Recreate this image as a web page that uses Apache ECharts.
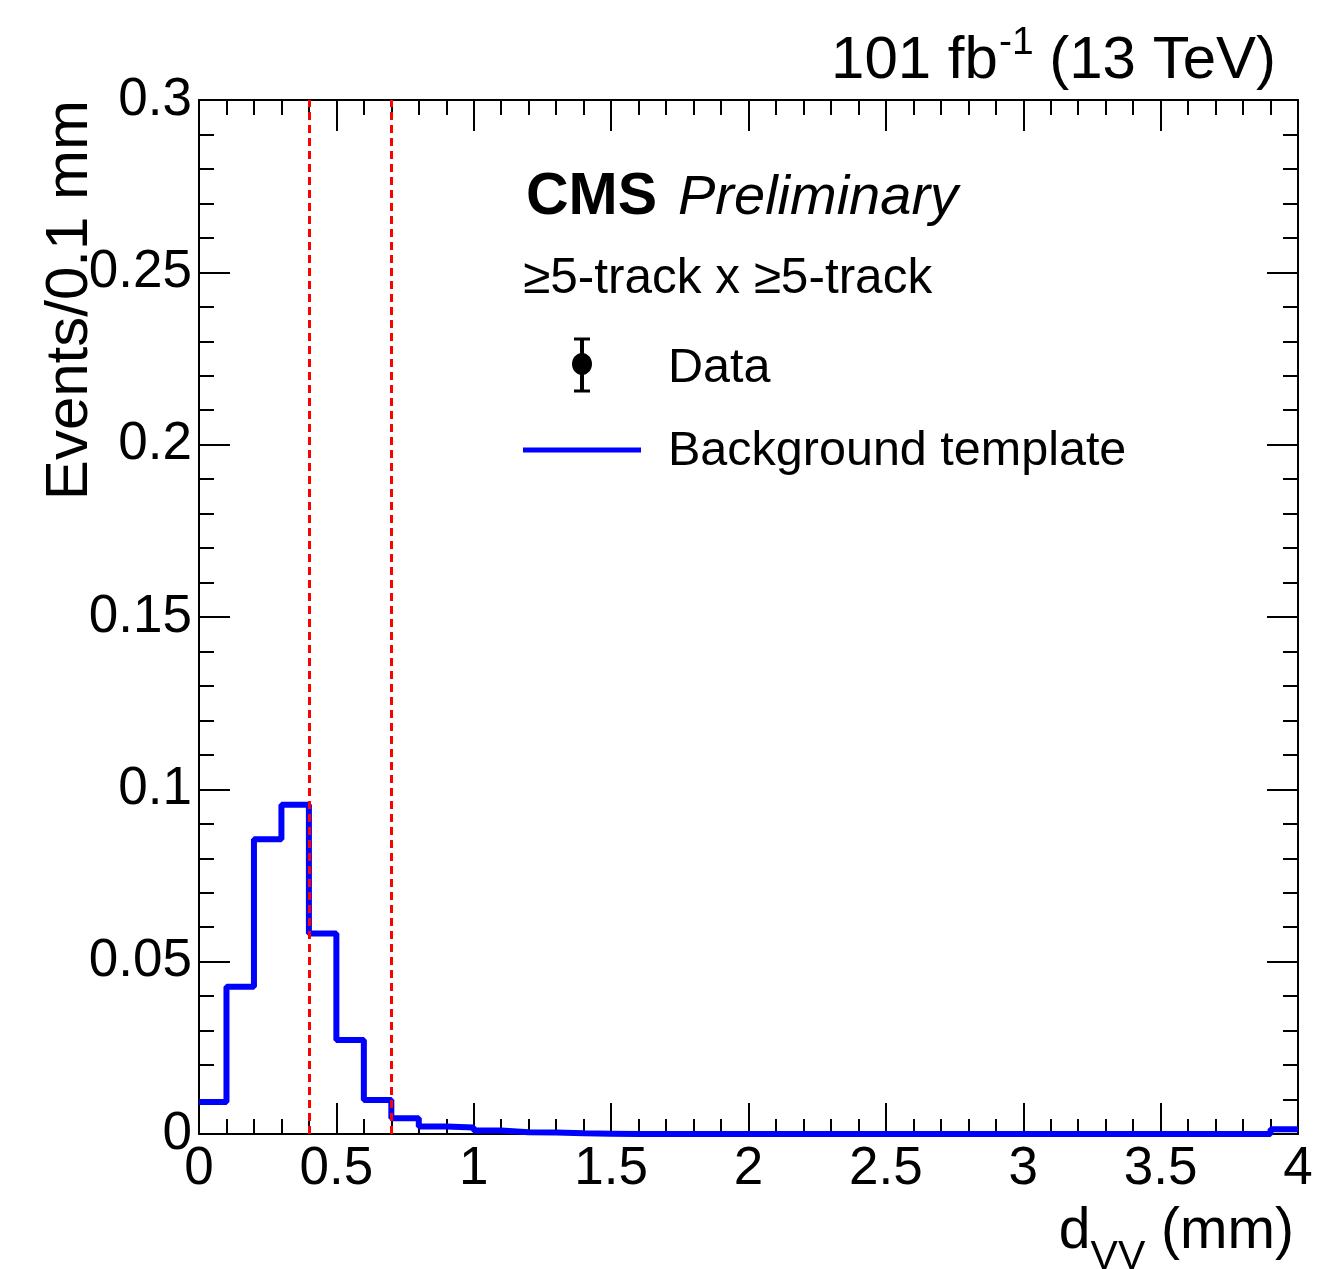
<!DOCTYPE html>
<html>
<head>
<meta charset="utf-8">
<script src="https://cdn.jsdelivr.net/npm/echarts@6/dist/echarts.min.js"></script>
<style>
  html, body { margin: 0; padding: 0; background: #fff; }
  #main { width: 1332px; height: 1269px; }
</style>
</head>
<body>
<div id="main"></div>
<script>
// d_VV histogram, bin low edges (mm) and contents (Events / 0.1 mm)
const binLow = [0.0, 0.1, 0.2, 0.3, 0.4, 0.5, 0.6, 0.7, 0.8, 0.9,
                1.0, 1.1, 1.2, 1.3, 1.4, 1.5, 1.6, 1.7, 1.8, 1.9,
                2.0, 2.1, 2.2, 2.3, 2.4, 2.5, 2.6, 2.7, 2.8, 2.9,
                3.0, 3.1, 3.2, 3.3, 3.4, 3.5, 3.6, 3.7, 3.8, 3.9];
const binHigh = 4.0;
const bkgTemplate = [0.0093, 0.0427, 0.0855, 0.0955, 0.0582, 0.0273, 0.0099, 0.0046, 0.0022, 0.0019,
                     0.0010, 0.0005, 0.0004, 0.0002, 0.0001, 0, 0, 0, 0, 0,
                     0, 0, 0, 0, 0, 0, 0, 0, 0, 0,
                     0, 0, 0, 0, 0, 0, 0, 0, 0, 0.0014];
const cutLines = [0.4, 0.7];
const xTicks = { min: 0, max: 4, interval: 0.5 };
const yTicks = { min: 0, max: 0.3, interval: 0.05 };

// step points for the outline
let stepData = binLow.map((x, i) => [x, bkgTemplate[i]]);
stepData.push([binHigh, bkgTemplate[bkgTemplate.length - 1]]);

const FONT = "'Liberation Sans', Arial, Helvetica, sans-serif";
const ctx = document.createElement('canvas').getContext('2d');
function tw(text, size, weight, style) {
    ctx.font = (style || 'normal') + ' ' + (weight || 'normal') + ' ' + size + 'px ' + FONT;
    return ctx.measureText(text).width;
}
// baseline -> middle for zrender text
function mid(baseline, size) { return baseline - 0.35 * size; }

let chart = echarts.init(document.getElementById('main'));

let tickStyle = { color: '#000', width: 2 };
function valueAxis(extra) {
    return Object.assign({
        type: 'value',
        axisLine: { show: true, onZero: false, lineStyle: tickStyle },
        axisTick: { show: true, inside: true, length: 31, lineStyle: tickStyle },
        minorTick: { show: true, splitNumber: 5, length: 15, lineStyle: tickStyle },
        splitLine: { show: false },
        axisLabel: { show: false }
    }, extra);
}

// header: 101 fb^-1 (13 TeV)
let hS = 60, hSup = 39, hRight = 1276, hBase = 82;
let w3 = tw(' (13 TeV)', hS), w2 = tw('-1', hSup), w1 = tw('101 fb', hS);
let x3 = hRight - w3, x2 = x3 - w2, x1 = x2 - w1;

// x title: d_VV (mm)
let tS = 57, tSub = 41, tRight = 1294, tBase = 1252;
let u3 = tw(' (mm)', tS), u2 = tw('VV', tSub), u1 = tw('d', tS);
let ux3 = tRight - u3, ux2 = ux3 - u2, ux1 = ux2 - u1;

function txt(x, baseline, text, size, extra) {
    return {
        type: 'text', x: x, y: mid(baseline, size), silent: true,
        style: Object.assign({
            text: text, fontSize: size, fontFamily: FONT, fill: '#000',
            align: 'left', verticalAlign: 'middle'
        }, extra || {})
    };
}

let option = {
    animation: false,
    backgroundColor: '#fff',
    grid: { left: 199, right: 34, top: 100, bottom: 135, containLabel: false },
    xAxis: [
        valueAxis({
            position: 'bottom', min: xTicks.min, max: xTicks.max, interval: xTicks.interval,
            axisLabel: {
                show: true, color: '#000', fontSize: 53, fontFamily: FONT, margin: 9,
                showMinLabel: true, showMaxLabel: true
            }
        }),
        valueAxis({ position: 'top', min: xTicks.min, max: xTicks.max, interval: xTicks.interval })
    ],
    yAxis: [
        valueAxis({
            position: 'left', min: yTicks.min, max: yTicks.max, interval: yTicks.interval,
            axisLabel: {
                show: true, color: '#000', fontSize: 53, fontFamily: FONT, margin: 7,
                showMinLabel: true, showMaxLabel: true
            }
        }),
        valueAxis({ position: 'right', min: yTicks.min, max: yTicks.max, interval: yTicks.interval })
    ],
    series: [{
        name: 'Background template',
        type: 'line',
        step: 'end',
        xAxisIndex: 0,
        yAxisIndex: 0,
        showSymbol: false,
        data: stepData,
        lineStyle: { color: '#0000ff', width: 6 },
        z: 3,
        markLine: {
            silent: true,
            symbol: 'none',
            label: { show: false },
            lineStyle: { color: '#ff0000', width: 3, type: [8, 5] },
            data: cutLines.map(v => ({ xAxis: v }))
        }
    }],
    graphic: [
        // header
        txt(x1, hBase, '101 fb', hS),
        txt(x2 + 1, hBase - 25, '-1', hSup),
        txt(x3, hBase, ' (13 TeV)', hS),
        // y title
        {
            type: 'text', x: 70, y: 100, rotation: Math.PI / 2, silent: true,
            style: {
                text: 'Events/0.1 mm', fontSize: 60, fontFamily: FONT, fill: '#000',
                align: 'right', verticalAlign: 'middle'
            }
        },
        // x title
        txt(ux1, tBase, 'd', tS),
        txt(ux2, tBase + 20, 'VV', tSub),
        txt(ux3, tBase, ' (mm)', tS),
        // CMS label
        txt(526, 218, 'CMS', 59, { fontWeight: 'bold' }),
        txt(678, 218, 'Preliminary', 56, { fontStyle: 'italic' }),
        txt(523, 297, '\u22655-track x \u22655-track', 49.5),
        // legend: Data
        { type: 'line', silent: true, shape: { x1: 582, y1: 338, x2: 582, y2: 392 }, style: { stroke: '#000', lineWidth: 4 } },
        { type: 'line', silent: true, shape: { x1: 574, y1: 339, x2: 590, y2: 339 }, style: { stroke: '#000', lineWidth: 3 } },
        { type: 'line', silent: true, shape: { x1: 574, y1: 391, x2: 590, y2: 391 }, style: { stroke: '#000', lineWidth: 3 } },
        { type: 'ellipse', silent: true, shape: { cx: 582, cy: 364, rx: 10, ry: 11 }, style: { fill: '#000' } },
        txt(668, 386, 'Data', 48.5),
        // legend: Background template
        { type: 'line', silent: true, shape: { x1: 523, y1: 450, x2: 641, y2: 450 }, style: { stroke: '#0000ff', lineWidth: 5 } },
        txt(668, 469, 'Background template', 48.5)
    ]
};
chart.setOption(option);
</script>
</body>
</html>
